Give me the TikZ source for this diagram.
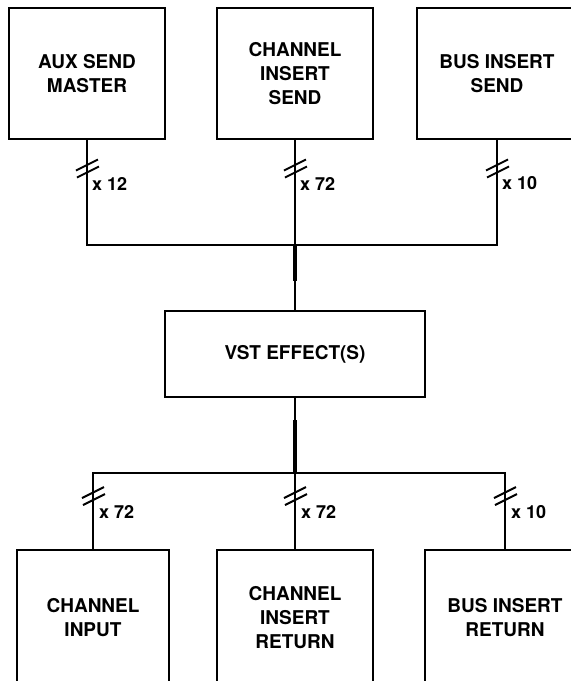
\documentclass[tikz,border=0pt]{standalone}
\usepackage{fontspec}
\setmainfont{TeX Gyre Heros}
\tikzset{
  blk/.style={draw, line width=2pt, minimum width=156pt, align=center,
    font=\fontsize{19}{24}\selectfont\bfseries, inner sep=0pt},
  wire/.style={line width=1.7pt},
  fat/.style={line width=3.8pt},
  tick/.style={line width=2pt},
  cnt/.style={font=\fontsize{18}{20}\selectfont\bfseries, anchor=west, inner sep=0pt}
}
\newcommand{\bundle}[2]{% x, y-center
  \draw[tick] (#1-11,#2-3.5+5.5) -- (#1+11,#2-3.5-5.5);
  \draw[tick] (#1-10,#2+3.5+5.5) -- (#1+12,#2+3.5-5.5);
}
\begin{document}
\begin{tikzpicture}[x=1pt,y=-1pt]
\useasboundingbox (0,0) rectangle (571,681);
\clip (0,0) rectangle (571,681);
% top boxes
\node[blk, minimum height=131pt] (aux) at (87,73.5) {AUX SEND\\MASTER};
\node[blk, minimum height=131pt] (cis) at (295,73.5) {CHANNEL\\INSERT\\SEND};
\node[blk, minimum width=160pt, minimum height=131pt] (bis) at (497,73.5) {BUS INSERT\\SEND};
% VST
\node[blk, minimum width=260pt, minimum height=86pt] (vst) at (295,354) {VST EFFECT(S)};
% bottom boxes
\node[blk, minimum width=152pt, minimum height=136pt] (ci) at (93,618) {CHANNEL\\INPUT};
\node[blk, minimum height=136pt] (cir) at (295,618) {CHANNEL\\INSERT\\RETURN};
\node[blk, minimum width=160pt, minimum height=136pt] (bir) at (505,618) {BUS INSERT\\RETURN};
% junctions
\coordinate (topbus) at (295,245);
\coordinate (topmid) at (295,281);
\coordinate (botmid) at (295,420);
\coordinate (botbus) at (295,473);
% top connectors
\draw[wire] (aux.south) |- (topbus);
\draw[wire] (bis.south) |- (topbus);
\draw[wire] (cis.south) -- (topbus);
\draw[fat] (topbus) -- (topmid);
\draw[wire] (topmid) -- (vst.north);
% bottom connectors
\draw[wire] (vst.south) -- (botmid);
\draw[fat] (botmid) -- (botbus);
\draw[wire] (botbus) -| (ci.north);
\draw[wire] (botbus) -| (bir.north);
\draw[wire] (botbus) -- (cir.north);
% bundle marks
\bundle{87}{168.5}
\bundle{295}{168.5}
\bundle{497}{168.5}
\bundle{93}{496}
\bundle{295}{496}
\bundle{505}{496}
\node[cnt] (n1) at (92,183.5) {x 12};
\node[cnt] (n2) at (300,183.5) {x 72};
\node[cnt] (n3) at (502,183.5) {x 10};
\node[cnt] (n4) at (99,512) {x 72};
\node[cnt] (n5) at (301,512) {x 72};
\node[cnt] (n6) at (511,512) {x 10};
\end{tikzpicture}
\end{document}
